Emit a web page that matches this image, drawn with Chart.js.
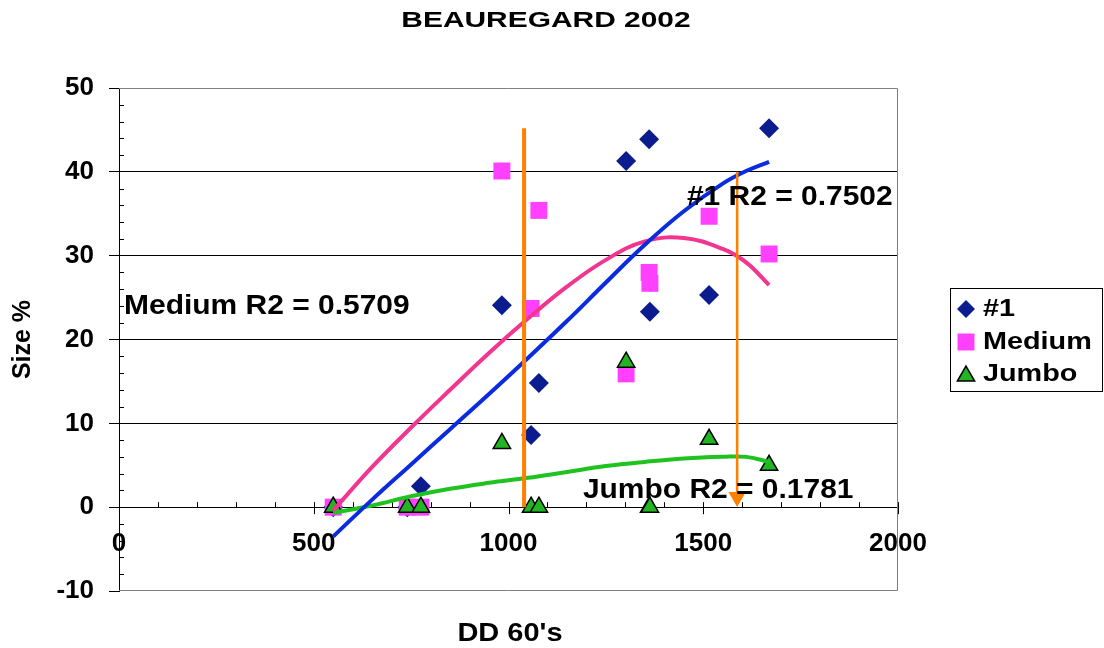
<!DOCTYPE html>
<html>
<head>
<meta charset="utf-8">
<title>BEAUREGARD 2002</title>
<script src="https://cdn.jsdelivr.net/npm/chart.js@4/dist/chart.umd.min.js"></script>
<style>
html, body { margin: 0; padding: 0; background: #fff; }
canvas { display: block; }
</style>
</head>
<body>
<canvas id="chart" width="1104" height="648"></canvas>
<script>
/* ==========================================
DATA
========================================== */

const ddX = [550, 740, 775, 983, 1058, 1078, 1302, 1361, 1363, 1515, 1669];

const no1Size = [0, 0, 2.5, 24.1, 8.6, 14.8, 41.3, 43.9, 23.3, 25.3, 45.2];
const mediumSize = [0, 0, 0, 40.1, 23.7, 35.4, 15.9, 28.0, 26.7, 34.7, 30.2];
const jumboSize = [0, 0, 0, 7.6, 0, 0, 17.3, 0, 0, 8.1, 5.0];

// trend curves
const fitX = [550, 650, 750, 850, 950, 1050, 1150, 1250, 1350, 1450, 1550, 1610, 1669];
const fitNo1 = [-3.5, 0.9, 5.1, 9.3, 13.5, 17.8, 22.2, 26.8, 31.3, 35.3, 38.6, 40.1, 41.2];
const fitMedium = [-0.4, 4.8, 9.5, 14.0, 18.4, 22.5, 26.3, 29.5, 31.7, 32.1, 30.8, 29.2, 26.5];
const fitJumbo = [-0.7, 0.2, 1.3, 2.2, 2.9, 3.5, 4.2, 4.9, 5.4, 5.8, 6.0, 6.0, 5.4];

// orange markers
const markerX = [1040, 1587];
const markerTop = [45.2, 40.0];
const markerBottom = [0, 1.2];

const seriesNames = ["#1", "Medium", "Jumbo"];
const fitLabels = ["#1 R2 = 0.7502", "Medium R2 = 0.5709", "Jumbo R2 = 0.1781"];

const xTicks = [0, 2000, 500];
const yTicks = [-10, 50, 10];

const FONT = "'Liberation Sans', Arial, sans-serif";

const COLORS = {
no1: "#0b1d8e",
medium: "#ff40ff",
jumbo: "#22b422",
fitNo1: "#0a2be0",
fitMedium: "#f2358f",
fitJumbo: "#1fc21f",
orange: "#ff8000"
};


/* ==========================================
HELPERS
========================================== */

function toPoints(xs, ys){
return xs.map((x, i) => ({ x: x, y: ys[i] }));
}

function wideText(ctx, text, x, y, size, sx, align){
ctx.save();
ctx.font = "bold " + size + "px " + FONT;
ctx.textAlign = align;
ctx.textBaseline = "middle";
ctx.fillStyle = "#000";
ctx.translate(x, y);
ctx.scale(sx, 1);
ctx.fillText(text, 0, 0);
ctx.restore();
}


/* ==========================================
DECORATION PLUGIN
========================================== */

const decor = {

id: "decor",

beforeDatasetsDraw(chart){

const ctx = chart.ctx;
const a = chart.chartArea;
const xs = chart.scales.x;
const ys = chart.scales.y;
const y0 = ys.getPixelForValue(0);

ctx.save();

// plot frame
ctx.strokeStyle = "#808080";
ctx.lineWidth = 1;
ctx.beginPath();
ctx.moveTo(a.left, a.top + 0.5);
ctx.lineTo(a.right - 0.5, a.top + 0.5);
ctx.lineTo(a.right - 0.5, a.bottom - 0.5);
ctx.lineTo(a.left, a.bottom - 0.5);
ctx.stroke();

// minor / major tick marks
ctx.strokeStyle = "#000";
ctx.beginPath();

for(let v = yTicks[0]; v <= yTicks[1]; v += 2){
if(v % yTicks[2] === 0) continue;
const py = Math.round(ys.getPixelForValue(v)) + 0.5;
ctx.moveTo(a.left, py);
ctx.lineTo(a.left + 5, py);
}

for(let v = xTicks[0]; v <= xTicks[1]; v += 100){
const px = Math.round(xs.getPixelForValue(v)) + 0.5;
ctx.moveTo(px, y0 - 5);
ctx.lineTo(px, v % xTicks[2] === 0 ? y0 + 7 : y0);
}

ctx.stroke();
ctx.restore();

},

afterDraw(chart){

const ctx = chart.ctx;
const xs = chart.scales.x;
const ys = chart.scales.y;
const opts = chart.options.plugins.decor;

// title
wideText(ctx, opts.title, 546, 21, 22, 1.36, "center");

// x axis title
wideText(ctx, opts.xTitle, 510, 634, 25, 1.16, "center");

// R2 labels
opts.labelPos.forEach((p, i) => {
wideText(
ctx,
fitLabels[i],
xs.getPixelForValue(p[0]),
ys.getPixelForValue(p[1]),
28,
1.07,
"left"
);
});

// legend
ctx.save();
ctx.strokeStyle = "#000";
ctx.lineWidth = 1;
ctx.strokeRect(950.5, 288.5, 152, 103);

const styles = [
{ pointStyle: "rectRot", radius: 9, rotation: 0, borderWidth: 0, fill: COLORS.no1 },
{ pointStyle: "rect", radius: 12, rotation: 0, borderWidth: 0, fill: COLORS.medium },
{ pointStyle: "triangle", radius: 10, rotation: 0, borderWidth: 1.5, fill: COLORS.jumbo }
];

const rowY = [309, 342, 374];

styles.forEach((s, i) => {
ctx.fillStyle = s.fill;
ctx.strokeStyle = "#000";
ctx.lineWidth = s.borderWidth;
Chart.helpers.drawPoint(ctx, s, 966, rowY[i] + (i === 2 ? 2 : 0));
wideText(ctx, seriesNames[i], 983, rowY[i], 24, 1.2, "left");
});

ctx.restore();

}

};


/* ==========================================
CHART
========================================== */

const tickFont = { family: FONT, size: 26, weight: "bold" };

const datasets = [

{
label: "arrow",
data: toPoints([markerX[1], markerX[1]], [markerTop[1], markerBottom[1]]),
showLine: true,
borderColor: COLORS.orange,
borderWidth: 2.5,
pointRadius: [0, 10],
pointStyle: "triangle",
rotation: 180,
pointBackgroundColor: COLORS.orange,
pointBorderWidth: 0
},

{
label: "marker",
data: toPoints([markerX[0], markerX[0]], [markerTop[0], markerBottom[0]]),
showLine: true,
borderColor: COLORS.orange,
borderWidth: 4,
pointRadius: 0
},

{
label: "fit #1",
data: toPoints(fitX, fitNo1),
showLine: true,
borderColor: COLORS.fitNo1,
borderWidth: 4,
pointRadius: 0,
tension: 0.4
},

{
label: "fit Medium",
data: toPoints(fitX, fitMedium),
showLine: true,
borderColor: COLORS.fitMedium,
borderWidth: 4,
pointRadius: 0,
tension: 0.4
},

{
label: "fit Jumbo",
data: toPoints(fitX, fitJumbo),
showLine: true,
borderColor: COLORS.fitJumbo,
borderWidth: 4,
pointRadius: 0,
tension: 0.4
},

{
label: seriesNames[2],
data: toPoints(ddX, jumboSize),
pointStyle: "triangle",
pointRadius: 10,
backgroundColor: COLORS.jumbo,
borderColor: "#000",
borderWidth: 1.5
},

{
label: seriesNames[1],
data: toPoints(ddX, mediumSize),
pointStyle: "rect",
pointRadius: 12,
backgroundColor: COLORS.medium,
borderWidth: 0
},

{
label: seriesNames[0],
data: toPoints(ddX, no1Size),
pointStyle: "rectRot",
pointRadius: 10,
backgroundColor: COLORS.no1,
borderWidth: 0
}

];

new Chart(document.getElementById("chart"), {

type: "scatter",

data: { datasets: datasets },

options: {

responsive: false,
animation: false,
devicePixelRatio: 1,
events: [],

layout: {
padding: { left: 0, top: 88, right: 206, bottom: 57 }
},

plugins: {
legend: { display: false },
title: { display: false },
tooltip: { enabled: false },
decor: {
title: "BEAUREGARD 2002",
xTitle: "DD 60's",
labelPos: [[1458, 37.0], [13, 24.0], [1191, 2.0]]
}
},

scales: {

x: {
type: "linear",
position: { y: 0 },
min: xTicks[0],
max: xTicks[1],
ticks: {
stepSize: xTicks[2],
color: "#000",
font: tickFont,
padding: 21,
maxRotation: 0,
callback: v => String(v)
},
grid: {
drawOnChartArea: false,
drawTicks: false
},
border: { color: "#000", width: 1 }
},

y: {
type: "linear",
min: yTicks[0],
max: yTicks[1],
ticks: {
stepSize: yTicks[2],
color: "#000",
font: tickFont,
padding: 15,
callback: v => String(v)
},
grid: {
color: c => (c.tick && c.tick.value > yTicks[0] && c.tick.value < yTicks[1]) ? "#000" : "rgba(0,0,0,0)",
tickColor: "#000",
tickLength: 10,
lineWidth: 1
},
border: { color: "#000", width: 1 },
title: {
display: true,
text: "Size %",
color: "#000",
font: { family: FONT, size: 25, weight: "bold" },
padding: { top: 8, bottom: 0 }
},
afterFit: s => { s.width = 119; }
}

}

},

plugins: [decor]

});
</script>
</body>
</html>
